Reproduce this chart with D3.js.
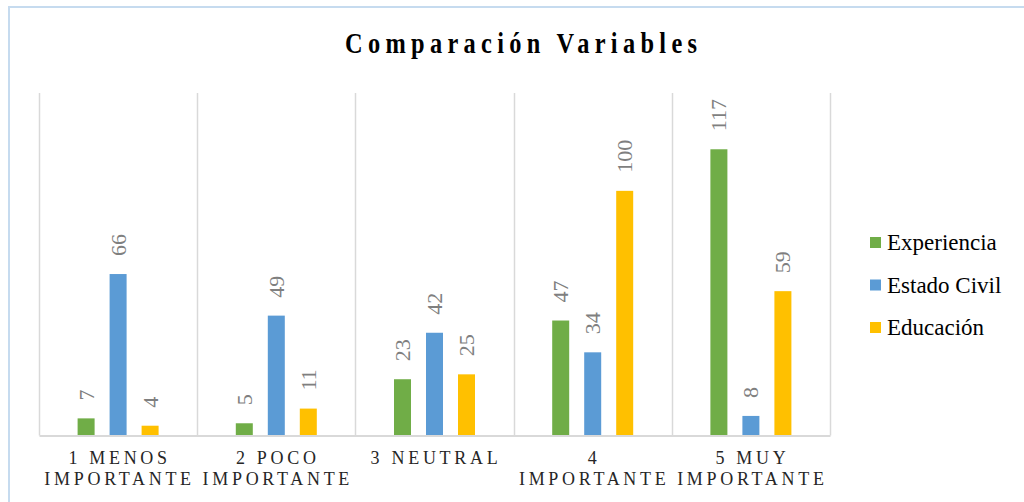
<!DOCTYPE html>
<html>
<head>
<meta charset="utf-8">
<script src="https://cdn.jsdelivr.net/npm/d3@7/dist/d3.min.js"></script>
<style>
  html, body { margin: 0; padding: 0; background: #fff; }
  svg { display: block; }
</style>
</head>
<body>
<svg id="chart" width="1024" height="502"></svg>
<script>
// Survey answers per importance level
const categories = ["1 MENOS IMPORTANTE", "2 POCO IMPORTANTE", "3 NEUTRAL", "4 IMPORTANTE", "5 MUY IMPORTANTE"];
const seriesNames = ["Experiencia", "Estado Civil", "Educación"];
const experiencia = [7, 5, 23, 47, 117];
const estadoCivil = [66, 49, 42, 34, 8];
const educacion = [4, 11, 25, 100, 59];
const seriesColors = ["#70ad47", "#5b9bd5", "#ffc000"];
const yMax = 140;

const SERIF = '"Liberation Serif", "Times New Roman", serif';

const seriesValues = [experiencia, estadoCivil, educacion];
const rows = categories.map((c, i) => ({
  category: c,
  values: seriesNames.map((s, j) => ({ series: s, value: seriesValues[j][i] }))
}));

const svg = d3.select("#chart");

// Outer chart border
svg.append("rect")
  .attr("x", 9).attr("y", 7)
  .attr("width", 1030).attr("height", 510)
  .attr("fill", "none")
  .attr("stroke", "#c6dbef")
  .attr("stroke-width", 2);

const plot = { left: 39, right: 830, top: 93, bottom: 435.5 };

const x0 = d3.scaleBand().domain(categories).range([plot.left, plot.right]).padding(0);
const x1 = d3.scaleBand().domain(seriesNames).range([-40.5, 40.5]).paddingInner(15 / 32).paddingOuter(0);
const y = d3.scaleLinear().domain([0, yMax]).range([plot.bottom, plot.top]);
const color = d3.scaleOrdinal().domain(seriesNames).range(seriesColors);

// Vertical category separators
const seps = categories.map(c => x0(c)).concat([plot.right]);
svg.append("g").selectAll("line").data(seps).join("line")
  .attr("x1", d => Math.round(d) + 0.5).attr("x2", d => Math.round(d) + 0.5)
  .attr("y1", plot.top).attr("y2", plot.bottom)
  .attr("stroke", "#d9d9d9").attr("stroke-width", 1.5);

// Bars
const groups = svg.append("g").selectAll("g").data(rows).join("g")
  .attr("transform", d => `translate(${x0(d.category) + x0.bandwidth() / 2},0)`);

groups.selectAll("rect").data(d => d.values).join("rect")
  .attr("x", d => x1(d.series))
  .attr("width", x1.bandwidth())
  .attr("y", d => y(d.value))
  .attr("height", d => y(0) - y(d.value))
  .attr("fill", d => color(d.series));

// Rotated value labels above each bar
groups.selectAll("text").data(d => d.values).join("text")
  .attr("transform", d => `translate(${x1(d.series) + x1.bandwidth() / 2},${y(d.value) - 18}) rotate(-90)`)
  .attr("dy", "0.34em")
  .attr("text-anchor", "start")
  .style("font-family", SERIF)
  .style("font-size", "22px")
  .attr("fill", "#7f7f7f")
  .text(d => d.value);

// Baseline axis
const xAxis = d3.axisBottom(x0).tickSize(0).tickFormat("");
const axisG = svg.append("g").attr("transform", `translate(0,${plot.bottom})`).call(xAxis);
axisG.select(".domain").attr("stroke", "#d9d9d9").attr("stroke-width", 2);

// Wrapped category labels
function splitLabel(label) {
  const suffix = " IMPORTANTE";
  return label.endsWith(suffix) ? [label.slice(0, -suffix.length), "IMPORTANTE"] : [label];
}
const catLabels = svg.append("g").selectAll("text").data(categories).join("text")
  .attr("y", 464)
  .attr("text-anchor", "middle")
  .style("font-family", SERIF)
  .style("font-size", "18px")
  .style("letter-spacing", "3.7px")
  .attr("fill", "#262626");
catLabels.each(function(d) {
  const t = d3.select(this);
  splitLabel(d).forEach((line, i) => {
    t.append("tspan")
      .attr("x", x0(d) + x0.bandwidth() / 2 + 1.5)
      .attr("dy", i === 0 ? 0 : 21)
      .text(line);
  });
});

// Title: condensed glyphs with wide tracking
const titleScale = 0.84;
svg.append("g")
  .attr("transform", `translate(521,53) scale(${titleScale},1)`)
  .append("text")
  .attr("x", 0).attr("y", 0)
  .attr("text-anchor", "middle")
  .style("font-family", SERIF)
  .style("font-weight", "bold")
  .style("font-size", "29px")
  .attr("textLength", 352 / titleScale)
  .attr("lengthAdjust", "spacing")
  .attr("fill", "#000")
  .text("Comparación Variables");

// Legend
const legend = svg.append("g").selectAll("g").data(seriesNames).join("g")
  .attr("transform", (d, i) => `translate(870,${237 + i * 42.5})`);
legend.append("rect")
  .attr("width", 11).attr("height", 11)
  .attr("fill", d => color(d));
legend.append("text")
  .attr("x", 17).attr("y", 13)
  .style("font-family", SERIF)
  .style("font-size", "23px")
  .attr("fill", "#000")
  .text(d => d);
</script>
</body>
</html>
